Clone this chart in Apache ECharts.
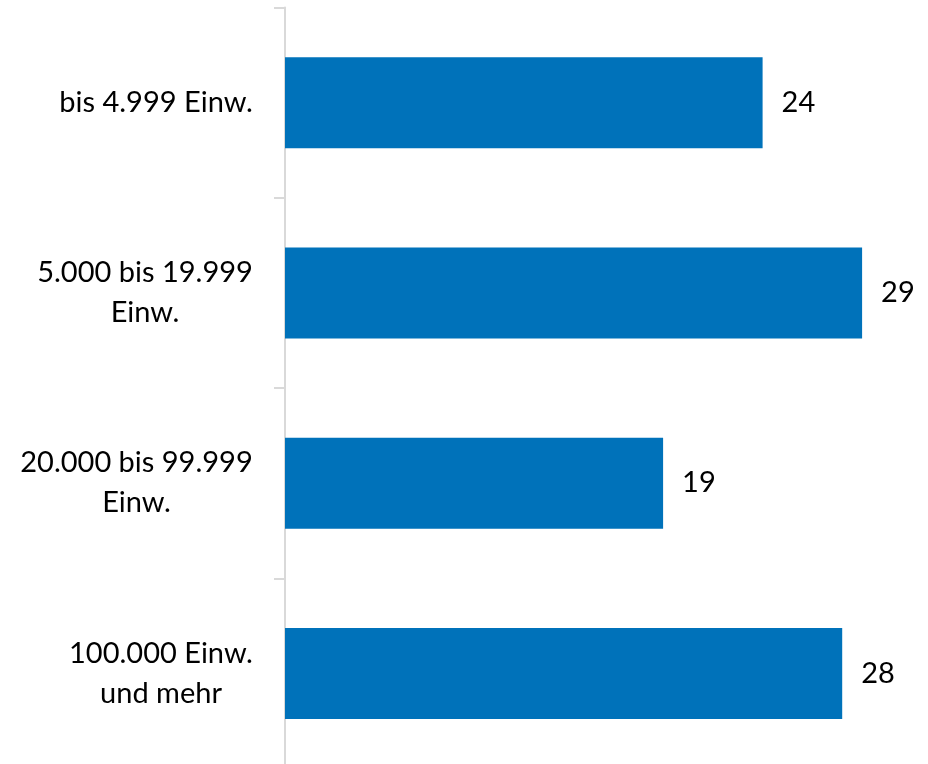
<!DOCTYPE html>
<html>
<head>
<meta charset="utf-8">
<script src="https://cdn.jsdelivr.net/npm/echarts@6/dist/echarts.min.js"></script>
<style>html,body{margin:0;padding:0;background:#fff}#c{width:928px;height:764px}</style>
</head>
<body>
<div id="c"></div>
<script>
const categories = ['bis 4.999 Einw.', '5.000 bis 19.999\nEinw.', '20.000 bis 99.999\nEinw.', '100.000 Einw.\nund mehr'];
const values = [24, 29, 19, 28];

const FONT = 'Lato';
const FS = 29;
const ctx = document.createElement('canvas').getContext('2d');
ctx.font = FS + 'px ' + FONT;
const rich = {};
categories.forEach((c, i) => {
  const w = Math.max(...c.split('\n').map(l => ctx.measureText(l).width));
  rich['r' + i] = { width: Math.ceil(w), align: 'center', fontFamily: FONT, fontSize: FS, lineHeight: 40, color: '#000' };
});

const chart = echarts.init(document.getElementById('c'));
chart.setOption({
  animation: false,
  grid: { left: 285, width: 597, top: 7.5, height: 761, outerBoundsMode: 'none' },
  xAxis: { type: 'value', min: 0, max: 30, show: false },
  yAxis: {
    type: 'category', inverse: true, data: categories,
    axisLine: { show: true, lineStyle: { color: '#d9d9d9', width: 2 } },
    axisTick: { show: true, length: 11, lineStyle: { color: '#d9d9d9', width: 2 } },
    axisLabel: {
      margin: 32, align: 'right',
      formatter: (v, i) => v.split('\n').map(l => '{r' + i + '|' + l + '}').join('\n'),
      rich: rich
    }
  },
  series: [{
    type: 'bar', data: values, barWidth: 91,
    itemStyle: { color: '#0072BA' },
    label: { show: true, position: 'right', distance: 19, fontFamily: FONT, fontSize: FS, color: '#000' }
  }]
});
</script>
</body>
</html>
